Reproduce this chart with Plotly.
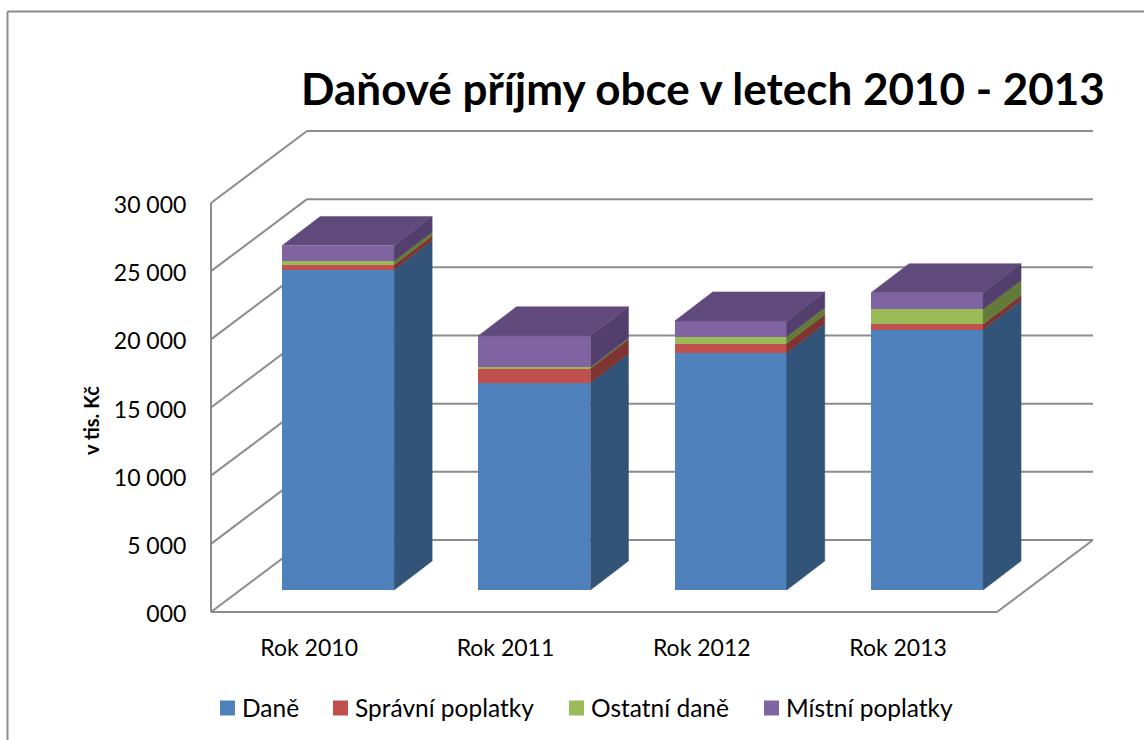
import plotly.graph_objects as go

categories = ["Rok 2010", "Rok 2011", "Rok 2012", "Rok 2013"]
dane = [23500, 15200, 17400, 19100]
spravni = [350, 1050, 680, 390]
ostatni = [290, 100, 510, 1100]
mistni = [1120, 2300, 1150, 1220]
series_names = ["Daně", "Správní poplatky", "Ostatní daně", "Místní poplatky"]
y_ticks = [0, 5000, 10000, 15000, 20000, 25000, 30000]
y_tick_labels = ["000", "5 000", "10 000", "15 000", "20 000", "25 000", "30 000"]

front_colors = ["#4F81BD", "#C0504D", "#9BBB59", "#8064A2"]
side_colors = ["#325479", "#7F3432", "#647A38", "#533F6E"]
top_color = "#604A7B"
grid_color = "#8C8C8C"

W, H = 1144, 740
X0_PX, Y0_PX = 211, 612          # front-left corner of the floor
CAT_PX = 196.3                   # pixels per category
VAL_PX = 409 / 30000             # pixels per unit of value
PLOT_L, PLOT_R, PLOT_T, PLOT_B = 205, 1100, 125, 618
LEGEND_SQUARE_PX = [220, 333, 569, 764]
LEGEND_Y_PX = 708

def dx(px):
    return px / CAT_PX

def dy(px):
    return px / VAL_PX

x_left = -0.5
x_right = x_left + dx(997 - 211)
wall_dx, wall_dy = dx(96), dy(72)
gap_dx, gap_dy = dx(29), dy(22)
depth_dx, depth_dy = dx(38), dy(29)
bar_w = dx(112)

fig = go.Figure()

series = [dane, spravni, ostatni, mistni]
bases = []
cum = [0] * len(categories)
bar_x = [i + gap_dx for i in range(len(categories))]
for name, vals, col in zip(series_names, series, front_colors):
    base = [gap_dy + c for c in cum]
    bases.append(base)
    fig.add_trace(go.Bar(x=bar_x, y=vals, base=base, width=bar_w, name=name,
                         showlegend=False,
                         marker=dict(color=col, line=dict(width=0))))
    cum = [c + v for c, v in zip(cum, vals)]

# Right side faces and top faces of the boxes
for vals, base, col in zip(series, bases, side_colors):
    for xc, v, b in zip(bar_x, vals, base):
        xr = xc + bar_w / 2
        fig.add_trace(go.Scatter(
            x=[xr, xr + depth_dx, xr + depth_dx, xr, xr],
            y=[b, b + depth_dy, b + v + depth_dy, b + v, b],
            mode="lines", fill="toself", fillcolor=col,
            line=dict(color=col, width=0.5), showlegend=False, hoverinfo="skip"))
for xc, total in zip(bar_x, cum):
    xl, xr = xc - bar_w / 2, xc + bar_w / 2
    t = gap_dy + total
    fig.add_trace(go.Scatter(
        x=[xl, xr, xr + depth_dx, xl + depth_dx, xl],
        y=[t, t, t + depth_dy, t + depth_dy, t],
        mode="lines", fill="toself", fillcolor=top_color,
        line=dict(color=top_color, width=0.5), showlegend=False, hoverinfo="skip"))

# Walls and floor of the 3D frame
line = dict(color=grid_color, width=2)
shapes = []
def seg(x0, y0, x1, y1):
    shapes.append(dict(type="line", xref="x", yref="y", x0=x0, y0=y0, x1=x1, y1=y1,
                       line=line, layer="below"))
seg(x_left, 0, x_left, y_ticks[-1])
for v in y_ticks:
    seg(x_left, v, x_left + wall_dx, v + wall_dy)
    seg(x_left + wall_dx, v + wall_dy, x_right + wall_dx, v + wall_dy)
seg(x_left, 0, x_right, 0)
seg(x_right, 0, x_right + wall_dx, wall_dy)
# Outer chart frame
shapes.append(dict(type="line", xref="paper", yref="paper", x0=7.5 / W, x1=7.5 / W,
                   y0=0, y1=1 - 11.5 / H, line=dict(color=grid_color, width=2)))
shapes.append(dict(type="line", xref="paper", yref="paper", x0=7.5 / W, x1=1,
                   y0=1 - 11.5 / H, y1=1 - 11.5 / H, line=dict(color=grid_color, width=2)))

font = "Lato, 'Open Sans', sans-serif"
annotations = [dict(text="<b>v tis. Kč</b>", textangle=-90, x=91 / W, y=1 - 421 / H,
                    xref="paper", yref="paper", xanchor="center", yanchor="middle",
                    showarrow=False,
                    font=dict(family=font, size=20, color="black"))]

# Legend: coloured squares with labels, placed as in the reference
for name, col, left in zip(series_names, front_colors, LEGEND_SQUARE_PX):
    shapes.append(dict(type="rect", xref="paper", yref="paper",
                       x0=left / W, x1=(left + 15) / W,
                       y0=1 - (LEGEND_Y_PX + 7.5) / H, y1=1 - (LEGEND_Y_PX - 7.5) / H,
                       fillcolor=col, line=dict(width=0)))
    annotations.append(dict(text=name, x=(left + 22) / W, y=1 - (LEGEND_Y_PX - 1) / H,
                            xref="paper", yref="paper", xanchor="left", yanchor="middle",
                            showarrow=False, xshift=-2,
                            font=dict(family=font, size=24.5, color="black")))

fig.update_layout(
    width=W, height=H, autosize=False,
    margin=dict(l=0, r=0, t=0, b=0),
    paper_bgcolor="white", plot_bgcolor="white",
    barmode="overlay", bargap=0, showlegend=False,
    font=dict(family=font, size=23, color="black"),
    title=dict(text="<b>Daňové příjmy obce v letech 2010 - 2013</b>",
               font=dict(family=font, size=44, color="black"),
               x=703 / W, xanchor="center", xref="paper",
               y=1 - 90 / H, yanchor="middle", yref="paper"),
    xaxis=dict(domain=[PLOT_L / W, PLOT_R / W], automargin=False,
               range=[x_left + dx(PLOT_L - X0_PX), x_left + dx(PLOT_R - X0_PX)],
               tickmode="array", tickvals=list(range(len(categories))), ticktext=categories,
               showgrid=False, zeroline=False, showline=False,
               ticks="outside", ticklen=9, tickcolor="rgba(0,0,0,0)"),
    yaxis=dict(domain=[1 - PLOT_B / H, 1 - PLOT_T / H], automargin=False,
               range=[dy(Y0_PX - PLOT_B), dy(Y0_PX - PLOT_T)],
               tickmode="array", tickvals=y_ticks, ticktext=y_tick_labels,
               showgrid=False, zeroline=False, showline=False, ticklabelshift=2,
               ticks="outside", ticklen=13, tickcolor="rgba(0,0,0,0)"),
    shapes=shapes,
    annotations=annotations,
)

fig.write_html("out.html", config={"displayModeBar": False},
               post_script="document.body.style.margin='0';document.body.style.overflow='hidden';")
